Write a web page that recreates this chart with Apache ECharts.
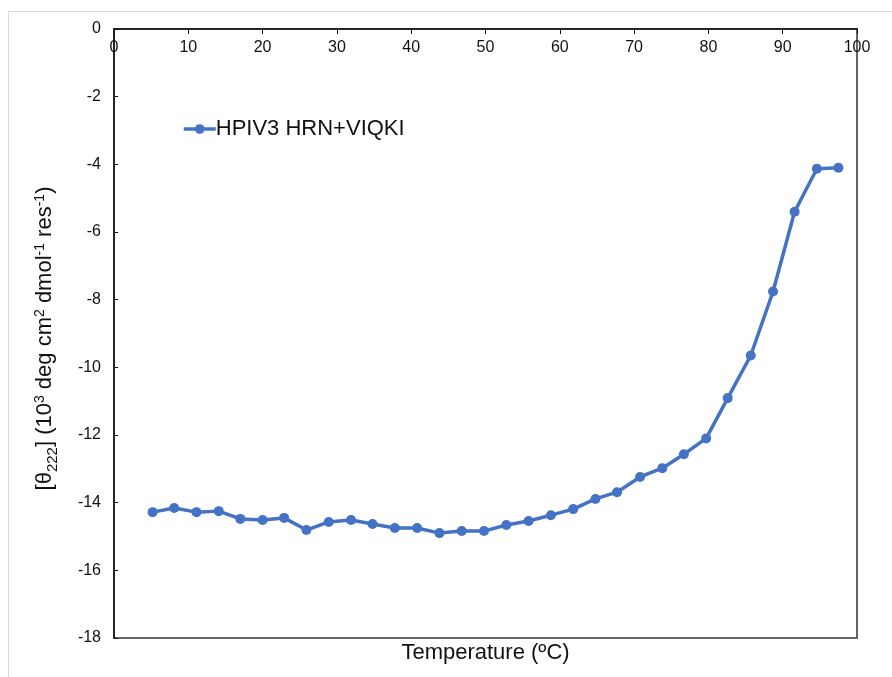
<!DOCTYPE html>
<html>
<head>
<meta charset="utf-8">
<script src="https://cdn.jsdelivr.net/npm/echarts@6/dist/echarts.min.js"></script>
<style>
  html, body { margin: 0; padding: 0; background: #fff; }
  #chart { width: 892px; height: 677px; }
</style>
</head>
<body>
<div id="chart"></div>
<script>
// Thermal melt of HPIV3 HRN+VIQKI followed by CD signal at 222 nm
const seriesName = 'HPIV3 HRN+VIQKI';
const temperature = [5.2, 8.1, 11.1, 14.1, 17.0, 20.0, 22.9, 25.9, 28.9, 31.9, 34.8, 37.8, 40.8, 43.8, 46.8, 49.8,
                     52.8, 55.8, 58.8, 61.8, 64.8, 67.7, 70.8, 73.8, 76.7, 79.7, 82.6, 85.7, 88.7, 91.6, 94.6, 97.5];
const theta222 = [-14.28, -14.16, -14.28, -14.25, -14.48, -14.51, -14.45, -14.81, -14.57, -14.51, -14.63, -14.75,
                  -14.75, -14.90, -14.84, -14.84, -14.66, -14.54, -14.37, -14.19, -13.89, -13.69, -13.24, -12.98,
                  -12.57, -12.10, -10.91, -9.65, -7.76, -5.40, -4.13, -4.10];
const xTicks = { min: 0, max: 100, step: 10 };
const yTicks = { min: -18, max: 0, step: 2 };

const points = temperature.map((t, i) => [t, theta222[i]]);
const textColor = '#111';
const lineColor = '#4472C4';
const font = '"Liberation Sans", Arial, Helvetica, sans-serif';

const chart = echarts.init(document.getElementById('chart'), null, { renderer: 'canvas' });
chart.setOption({
  animation: false,
  backgroundColor: '#fff',
  textStyle: { fontFamily: font, color: textColor },
  graphic: [{
    type: 'rect',
    shape: { x: 8.5, y: 11.5, width: 900, height: 700 },
    style: { fill: 'none', stroke: '#d9d9d9', lineWidth: 1 },
    silent: true
  }],
  grid: {
    left: 114, top: 29, right: 35, bottom: 39,
    show: true, borderColor: '#333', borderWidth: 1.5, backgroundColor: 'transparent'
  },
  legend: {
    show: true,
    left: 177, top: 113,
    itemWidth: 32, itemHeight: 12, itemGap: 4,
    lineStyle: { width: 3.5 },
    textStyle: { fontSize: 22, color: textColor, fontFamily: font, padding: [0, 0, 0, -5] },
    data: [seriesName]
  },
  xAxis: {
    type: 'value',
    position: 'top',
    min: xTicks.min, max: xTicks.max, interval: xTicks.step,
    name: 'Temperature (ºC)',
    nameLocation: 'middle',
    nameGap: 0,
    nameTextStyle: { fontSize: 22, color: textColor, fontFamily: font },
    axisLine: { show: true, onZero: false, lineStyle: { color: '#111', width: 1.5 } },
    axisTick: { show: true, inside: true, length: 5, lineStyle: { color: '#111' } },
    axisLabel: { inside: true, margin: 11, fontSize: 16, color: textColor, fontFamily: font },
    splitLine: { show: false }
  },
  yAxis: {
    type: 'value',
    min: yTicks.min, max: yTicks.max, interval: yTicks.step,
    name: '{b|[θ}{sub|222}{b|] (10}{sup|3}{b| deg cm}{sup|2}{b| dmol}{sup|-1}{b| res}{sup|-1}{b|)}',
    nameLocation: 'middle',
    nameRotate: 90,
    nameGap: 54,
    nameTextStyle: {
      color: textColor, fontFamily: font, padding: [0, 10, 0, 0],
      rich: {
        b: { fontSize: 22, color: textColor, fontFamily: font, lineHeight: 30, verticalAlign: 'middle' },
        sub: { fontSize: 15, color: textColor, fontFamily: font, lineHeight: 30, verticalAlign: 'bottom' },
        sup: { fontSize: 14, color: textColor, fontFamily: font, lineHeight: 30, verticalAlign: 'top', padding: [3, 0, 0, 0] }
      }
    },
    axisLine: { show: true, onZero: false, lineStyle: { color: '#111', width: 1.5 } },
    axisTick: { show: true, inside: true, length: 4, lineStyle: { color: '#111' } },
    axisLabel: { margin: 13, fontSize: 16, color: textColor, fontFamily: font },
    splitLine: { show: false }
  },
  series: [{
    name: seriesName,
    type: 'line',
    data: points,
    symbol: 'circle',
    symbolSize: 10,
    itemStyle: { color: lineColor },
    lineStyle: { color: lineColor, width: 3.5 }
  }]
});

// Place the x-axis title just under the bottom edge of the plot area
const bottomEdge = chart.convertToPixel({ yAxisIndex: 0 }, yTicks.min);
const topEdge = chart.convertToPixel({ yAxisIndex: 0 }, yTicks.max);
chart.setOption({ xAxis: { nameGap: -(bottomEdge - topEdge) - 29 } });
</script>
</body>
</html>
